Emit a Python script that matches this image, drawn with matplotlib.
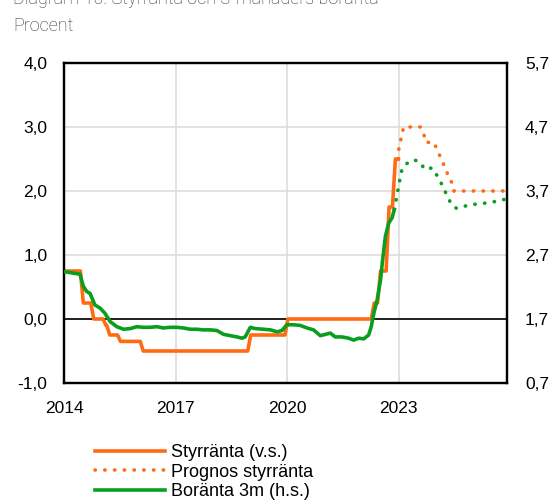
import matplotlib
matplotlib.use('Agg')
import matplotlib.pyplot as plt
from matplotlib.ticker import FuncFormatter

# Styrränta, utfall (v.s.) - decimalår när räntan ändras och ny nivå
styr_ar = [2014.0, 2014.52, 2014.80, 2015.13, 2015.23, 2015.52, 2016.13,
           2019.02, 2020.02, 2022.34, 2022.51, 2022.74, 2022.91, 2022.99]
styr_varde = [0.75, 0.25, 0.0, -0.10, -0.25, -0.35, -0.50,
              -0.25, 0.0, 0.25, 0.75, 1.75, 2.50, 2.50]

# Prognos styrränta (v.s.)
prognos_ar = [2022.99, 2023.00, 2023.04, 2023.09, 2023.13, 2023.58, 2023.67,
              2023.72, 2023.94, 2024.03, 2024.12, 2024.21, 2024.28, 2024.34,
              2024.44, 2024.48, 2025.91]
prognos_varde = [2.50, 2.65, 2.76, 2.89, 3.00, 3.00, 2.90,
                 2.76, 2.76, 2.65, 2.53, 2.41, 2.32, 2.21,
                 2.12, 2.00, 2.00]

# Boränta 3m, utfall (h.s.)
bo_ar = [2014.00, 2014.43, 2014.52, 2014.61, 2014.70, 2014.83, 2014.97, 2015.10,
         2015.24, 2015.42, 2015.60, 2015.78, 2015.96, 2016.13, 2016.31, 2016.50,
         2016.67, 2016.85, 2017.03, 2017.21, 2017.39, 2017.57, 2017.75, 2017.93,
         2018.11, 2018.29, 2018.47, 2018.65, 2018.78, 2018.87, 2019.01, 2019.14,
         2019.36, 2019.55, 2019.73, 2019.86, 2019.99, 2020.17, 2020.35, 2020.53,
         2020.71, 2020.89, 2021.03, 2021.16, 2021.29, 2021.47, 2021.65, 2021.79,
         2021.92, 2022.06, 2022.19, 2022.26, 2022.33, 2022.42, 2022.51, 2022.56,
         2022.64, 2022.73, 2022.82, 2022.88]
bo_varde = [2.44, 2.40, 2.21, 2.13, 2.10, 1.92, 1.87, 1.79,
            1.66, 1.58, 1.54, 1.55, 1.58, 1.57, 1.57, 1.58,
            1.56, 1.57, 1.57, 1.56, 1.54, 1.54, 1.53, 1.53,
            1.52, 1.46, 1.44, 1.42, 1.40, 1.42, 1.57, 1.55,
            1.54, 1.53, 1.50, 1.52, 1.61, 1.61, 1.60, 1.56,
            1.53, 1.44, 1.46, 1.48, 1.42, 1.42, 1.40, 1.37,
            1.40, 1.39, 1.45, 1.58, 1.79, 2.00, 2.31, 2.59,
            2.99, 3.20, 3.28, 3.41]

# Prognos boränta 3m (h.s.)
bo_prognos_ar = [2022.88, 2022.96, 2023.00, 2023.04, 2023.09, 2023.22, 2023.40,
                 2023.58, 2023.69, 2023.90, 2024.01, 2024.12, 2024.21, 2024.32,
                 2024.41, 2024.55, 2024.75, 2024.97, 2025.20, 2025.42, 2025.65,
                 2025.85]
bo_prognos_varde = [3.41, 3.66, 3.78, 3.91, 4.05, 4.13, 4.19,
                    4.15, 4.04, 4.06, 3.96, 3.85, 3.73, 3.61,
                    3.49, 3.43, 3.46, 3.49, 3.50, 3.52, 3.54,
                    3.57]

ar_ticks = [2014, 2017, 2020, 2023]
orange = '#FF6A13'
gron = '#0A9E1E'

# styrräntan ritas som månadsdata: kort lutning vid varje ändring
styr_x, styr_y = [styr_ar[0]], [styr_varde[0]]
for i in range(1, len(styr_ar)):
    if styr_varde[i] != styr_varde[i - 1]:
        styr_x.append(styr_ar[i] - 0.08)
        styr_y.append(styr_varde[i - 1])
    styr_x.append(styr_ar[i])
    styr_y.append(styr_varde[i])

plt.rcParams['font.family'] = ['Liberation Sans', 'DejaVu Sans']

fig = plt.figure(figsize=(5.53, 5.04), dpi=100)
ax = fig.add_axes([64/553, 121/504, 443/553, 320/504])
ax2 = ax.twinx()

ax.set_xlim(2014, 2025.91)
ax.set_ylim(-1, 4)
ax2.set_ylim(0.7, 5.7)

ax.set_yticks([-1, 0, 1, 2, 3, 4])
ax2.set_yticks([0.7, 1.7, 2.7, 3.7, 4.7, 5.7])
ax.set_xticks(ar_ticks)

komma = FuncFormatter(lambda v, p: ('%.1f' % v).replace('.', ','))
ax.yaxis.set_major_formatter(komma)
ax2.yaxis.set_major_formatter(komma)
ax.set_xticklabels([str(a) for a in ar_ticks])

ax.grid(True, color='#DDDDDD', linewidth=1.2)
ax.set_axisbelow(True)
ax.axhline(0, color='black', linewidth=1.2, zorder=1)

for a in [ax, ax2]:
    for s in a.spines.values():
        s.set_linewidth(1.6)
        s.set_color('black')
    a.tick_params(length=0, labelsize=12.5, colors='black')
ax.tick_params(axis='y', pad=12)
ax.tick_params(axis='x', pad=13)
ax2.tick_params(axis='y', pad=13)

ax.plot(styr_x, styr_y, color=orange, linewidth=2.6,
        label='Styrränta (v.s.)', zorder=3)
ax.plot(prognos_ar, prognos_varde, color=orange, linewidth=2.6,
        linestyle=(0, (0.1, 2.6)), dash_capstyle='round', label='Prognos styrränta', zorder=3)
ax2.plot(bo_ar, bo_varde, color=gron, linewidth=2.6, label='Boränta 3m (h.s.)', zorder=4)
ax2.plot(bo_prognos_ar, bo_prognos_varde, color=gron, linewidth=2.6,
         linestyle=(0, (0.1, 2.6)), dash_capstyle='round', zorder=4)

h1, l1 = ax.get_legend_handles_labels()
h2, l2 = ax2.get_legend_handles_labels()
leg = fig.legend(h1 + h2, l1 + l2, loc='upper left', bbox_to_anchor=(95/553, 1 - 444/504),
                 frameon=False, fontsize=13, handlelength=3.85, handletextpad=0.37,
                 labelspacing=0.15, borderaxespad=0, borderpad=0)

fig.text(13/553, 1 - 4/504, 'Diagram 10. Styrränta och 3-månaders boränta',
         fontsize=13, family='Roboto', fontweight='light', color='#333333', va='baseline')
fig.text(13/553, 1 - 31/504, 'Procent', fontsize=13, family='Roboto',
         fontweight='light', color='#333333', va='baseline')

plt.savefig('out.png', dpi=100)
